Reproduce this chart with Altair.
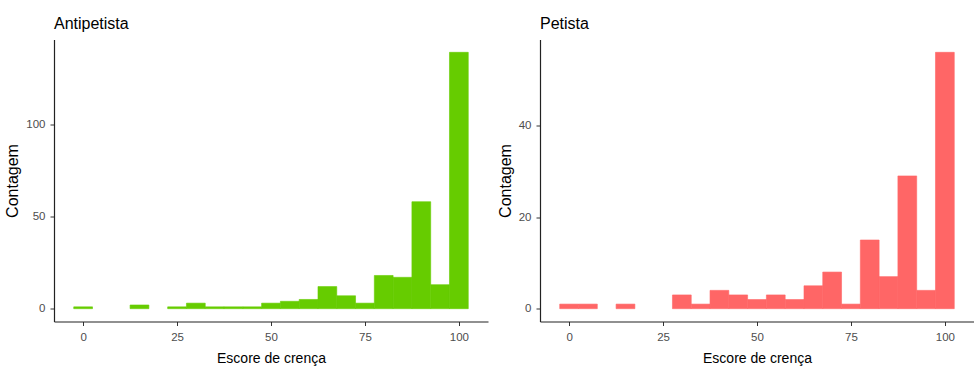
import altair as alt
import pandas as pd

# ---- data ----
bin_centers = [0, 5, 10, 15, 20, 25, 30, 35, 40, 45, 50, 55, 60, 65, 70, 75, 80, 85, 90, 95, 100]
antipetista_counts = [1, 0, 0, 2, 0, 1, 3, 1, 1, 1, 3, 4, 5, 12, 7, 3, 18, 17, 58, 13, 139]
petista_counts = [1, 1, 0, 1, 0, 0, 3, 1, 4, 3, 2, 3, 2, 5, 8, 1, 15, 7, 29, 4, 56]
panel_titles = ["Antipetista", "Petista"]
x_ticks = [0, 25, 50, 75, 100]
anti_y_ticks = [0, 50, 100]
peti_y_ticks = [0, 20, 40]
bin_width = 5

FONT = "Liberation Sans"


def panel(title, counts, color, yticks):
    df = pd.DataFrame({"centro": bin_centers, "contagem": counts})
    df = df[df["contagem"] > 0].copy()
    df["ini"] = df["centro"] - bin_width / 2
    df["fim"] = df["centro"] + bin_width / 2
    xmin = bin_centers[0] - bin_width / 2
    xmax = bin_centers[-1] + bin_width / 2
    xpad = (xmax - xmin) * 0.05
    ymax = max(counts)
    ypad = ymax * 0.05
    return (
        alt.Chart(df, title=alt.Title(title, anchor="start", frame="group", fontSize=16, font=FONT,
                                      fontWeight="normal", color="black", offset=8))
        .mark_rect(color=color, stroke=color, strokeWidth=0.6)
        .encode(
            x=alt.X("ini:Q",
                    scale=alt.Scale(domain=[xmin - xpad, xmax + xpad], nice=False, zero=False),
                    axis=alt.Axis(values=x_ticks, title="Escore de crença", labelPadding=6,
                                  titlePadding=8)),
            x2="fim:Q",
            y=alt.Y("contagem:Q",
                    scale=alt.Scale(domain=[-ypad, ymax + ypad], nice=False, zero=False),
                    axis=alt.Axis(values=yticks, title="Contagem", titleFontSize=16, labelPadding=5,
                                  titlePadding=5)),
            y2=alt.datum(0),
        )
        .properties(width=434, height=282)
    )


left = panel(panel_titles[0], antipetista_counts, "#66CC00", anti_y_ticks)
right = panel(panel_titles[1], petista_counts, "#FF6666", peti_y_ticks)

chart = (
    alt.hconcat(left, right, spacing=9)
    .properties(padding={"left": 4, "top": 15.5, "right": 0, "bottom": 0}, background="white")
    .configure_view(stroke=None)
    .configure_axis(
        grid=False,
        domainColor="#222222",
        domainWidth=1.2,
        tickColor="#333333",
        tickSize=4,
        tickWidth=1,
        labelColor="#4D4D4D",
        labelFont=FONT,
        labelFontSize=11.5,
        titleFont=FONT,
        titleFontSize=14,
        titleFontWeight="normal",
        titleColor="black",
    )
)

chart.save("out.html", embed_options={"renderer": "svg", "actions": False})
